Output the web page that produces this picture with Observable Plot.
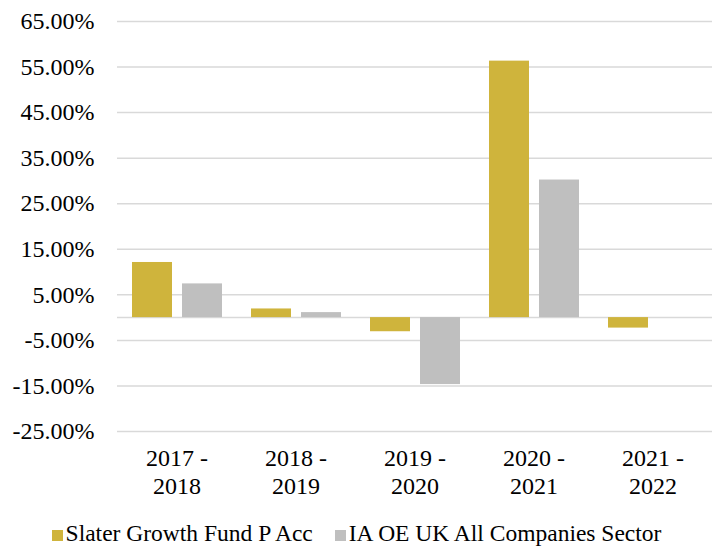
<!DOCTYPE html>
<html>
<head>
<meta charset="utf-8">
<script src="https://cdn.jsdelivr.net/npm/d3@7"></script>
<script src="https://cdn.jsdelivr.net/npm/@observablehq/plot@0.6"></script>
<style>
  html, body { margin: 0; padding: 0; background: #fff; }
  body { width: 713px; height: 551px; overflow: hidden; font-family: "Liberation Serif", "Times New Roman", serif; }
  #chart svg { display: block; }
  #legend { display: flex; justify-content: center; align-items: center; height: 36px; padding-top: 4px; font-size: 23.5px; color: #000; }
  .item { display: flex; align-items: center; margin: 0 11px; }
  .sw { width: 11px; height: 11px; margin-right: 3px; margin-top: 4px; }
</style>
</head>
<body>
<div id="chart"></div>
<div id="legend"></div>
<script>
const periods = ["2017 - 2018", "2018 - 2019", "2019 - 2020", "2020 - 2021", "2021 - 2022"];
const seriesNames = ["Slater Growth Fund P Acc", "IA OE UK All Companies Sector"];
const fundValues = [12.1, 1.9, -3.1, 56.3, -2.3];
const sectorValues = [7.4, 1.1, -14.7, 30.2, null];
const yTicks = [-25, -15, -5, 5, 15, 25, 35, 45, 55, 65];
const colors = ["#CFB43C", "#BFBFBF"];

const data = [];
periods.forEach((p, i) => {
  data.push({period: p, series: seriesNames[0], value: fundValues[i]});
  if (sectorValues[i] != null) data.push({period: p, series: seriesNames[1], value: sectorValues[i]});
});

const serif = "'Liberation Serif', 'Times New Roman', serif";
const chart = Plot.plot({
  width: 713,
  height: 511,
  marginLeft: 117,
  marginRight: 1,
  marginTop: 21,
  marginBottom: 80,
  style: {fontFamily: serif, background: "#fff", color: "#000"},
  fx: {domain: periods, paddingInner: 0, paddingOuter: 0, label: null, axis: null},
  x: {domain: seriesNames, paddingInner: 0.21, paddingOuter: 0.295, axis: null},
  y: {domain: [-25, 65], label: null},
  color: {domain: seriesNames, range: colors},
  marks: [
    Plot.ruleY(yTicks, {stroke: "#D9D9D9", strokeWidth: 1.5}),
    Plot.ruleY([0], {stroke: "#D9D9D9", strokeWidth: 1.5}),
    Plot.barY(data, {fx: "period", x: "series", y: "value", fill: "series"}),
    Plot.axisY({ticks: yTicks, tickFormat: d => d.toFixed(2) + "%", tickSize: 0, tickPadding: 23, fontSize: 24, fontFamily: serif, label: null}),
    Plot.axisFx({anchor: "bottom", tickSize: 0, tickPadding: 15, fontSize: 24, fontFamily: serif, lineHeight: 1.15, label: null, tickFormat: d => d.replace(" - ", " -\n")})
  ]
});
document.getElementById("chart").appendChild(chart);

const legend = document.getElementById("legend");
seriesNames.forEach((s, i) => {
  const it = document.createElement("div");
  it.className = "item";
  const sw = document.createElement("div");
  sw.className = "sw";
  sw.style.background = colors[i];
  const t = document.createElement("span");
  t.textContent = s;
  it.appendChild(sw); it.appendChild(t);
  legend.appendChild(it);
});
</script>
</body>
</html>
